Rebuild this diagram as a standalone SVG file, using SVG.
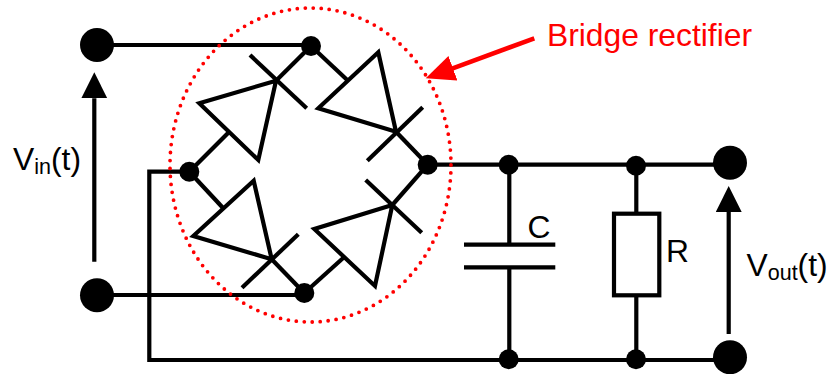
<svg xmlns="http://www.w3.org/2000/svg" width="831" height="374" viewBox="0 0 831 374">
<style>
.w{fill:none;stroke:#000;stroke-width:4.2;stroke-linejoin:miter}
.j{fill:#000}
.t{font-family:"Liberation Sans",Arial,sans-serif;font-size:31.8px;fill:#000}
.s{font-size:21.5px}
</style>
<defs>
<marker id="ah" markerUnits="userSpaceOnUse" markerWidth="27" markerHeight="27" refX="0" refY="13" orient="auto"><path d="M0 0L26 13L0 26Z" fill="#000"/></marker>
<marker id="rh" markerUnits="userSpaceOnUse" markerWidth="30" markerHeight="30" refX="1" refY="13" orient="auto"><path d="M0 0L29 13L0 26Z" fill="#f00"/></marker>
</defs>
<rect width="831" height="374" fill="#fff"/>
<g id="connectors" class="w">
<path d="M97 45H311"/>
<path d="M97 295H304.3"/>
<path d="M189.3 171.7H149.3V360H730"/>
<path d="M427.7 164.7H730"/>
<path d="M311 46L276 80.7"/>
<path d="M189.3 171.7L228.3 132.7"/>
<path d="M311 46L348.3 81"/>
<path d="M396 131.7L427.7 164.7"/>
<path d="M189.3 171.7L223.3 208.3"/>
<path d="M271.7 259.3L304.3 293"/>
<path d="M304.3 293L344 257.3"/>
<path d="M392.3 205L427.7 164.7"/>
<path d="M509.3 164.7V244.7"/>
<path d="M509.3 267.3V360"/>
<path d="M636.3 165V213.7"/>
<path d="M636.3 295.3V360"/>
<path d="M94.3 261.7V98.3" marker-end="url(#ah)"/>
<path d="M728.7 334V212" marker-end="url(#ah)"/>
</g>
<g id="diode-top-left" class="w"><path d="M276 80.7L199.3 103.3L258.3 160Z"/><path d="M250 55L306.7 108.3"/></g>
<g id="diode-top-right" class="w"><path d="M396 131.7L378.3 52.3L318.3 108.3Z"/><path d="M422.7 107.3L367.3 160.7"/></g>
<g id="diode-bottom-left" class="w"><path d="M271.7 259.3L253.7 180.7L193.3 236Z"/><path d="M298.3 234.3L242 287.7"/></g>
<g id="diode-bottom-right" class="w"><path d="M392.3 205L314.3 229L375 286Z"/><path d="M365.7 180L421.7 232.7"/></g>
<g id="capacitor" class="w"><path d="M464 244.7H555.3"/><path d="M464 267.3H555.3"/></g>
<g id="resistor" class="w"><rect x="614" y="213.7" width="45.3" height="81.6"/></g>
<g id="terminal-in-top"><circle class="j" cx="97" cy="45" r="17"/></g>
<g id="terminal-in-bottom"><circle class="j" cx="97" cy="295.3" r="17"/></g>
<g id="terminal-out-top"><circle class="j" cx="730" cy="162.7" r="17"/></g>
<g id="terminal-out-bottom"><circle class="j" cx="730" cy="357.3" r="17"/></g>
<g id="junction-top"><circle class="j" cx="311" cy="46" r="10"/></g>
<g id="junction-left"><circle class="j" cx="189.3" cy="171.7" r="10"/></g>
<g id="junction-right"><circle class="j" cx="427.7" cy="164.7" r="10"/></g>
<g id="junction-bottom"><circle class="j" cx="304.3" cy="293" r="10"/></g>
<g id="junction-c-top"><circle class="j" cx="508.7" cy="164.7" r="10"/></g>
<g id="junction-r-top"><circle class="j" cx="636" cy="165.7" r="10"/></g>
<g id="junction-c-bottom"><circle class="j" cx="508.7" cy="359.3" r="10"/></g>
<g id="junction-r-bottom"><circle class="j" cx="636" cy="359.3" r="10"/></g>
<g id="bridge-outline"><ellipse cx="310.5" cy="165" rx="140.5" ry="157" fill="none" stroke="#f00" stroke-width="3.8" stroke-linecap="round" stroke-dasharray="0 8"/></g>
<g id="bridge-label">
<path d="M534.3 38.3L452 68.6" fill="none" stroke="#f00" stroke-width="4.5" marker-end="url(#rh)"/>
<text class="t" x="547" y="45.7" style="fill:#f00">Bridge rectifier</text>
</g>
<g id="labels">
<text class="t" x="13" y="170">V<tspan class="s" dy="4">in</tspan><tspan dy="-4">(t)</tspan></text>
<text class="t" x="746.5" y="276">V<tspan class="s" dy="4">out</tspan><tspan dy="-4">(t)</tspan></text>
<text class="t" x="527.5" y="238.3">C</text>
<text class="t" x="666" y="261.7">R</text>
</g>
</svg>
